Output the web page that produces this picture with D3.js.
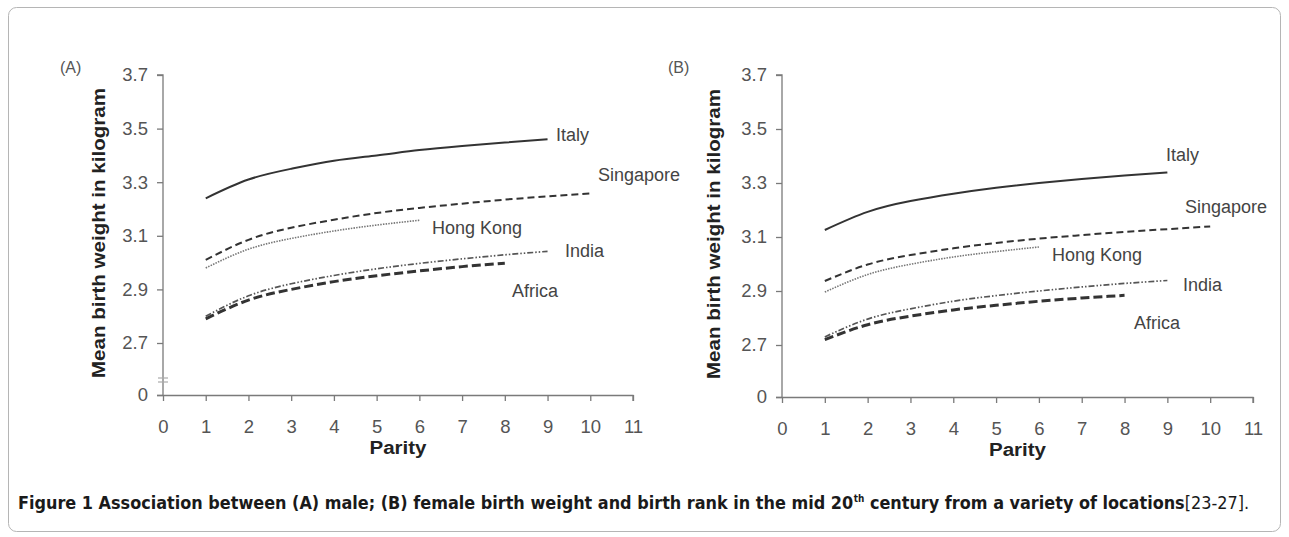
<!DOCTYPE html>
<html><head><meta charset="utf-8">
<script src="https://cdn.jsdelivr.net/npm/d3@7"></script>
<style>
html,body{margin:0;padding:0;background:#fff;}
svg{display:block;}
</style></head>
<body>
<svg id="chart" width="1289" height="537"></svg>
<script>
// ---- data ----
const parityTicks = [0,1,2,3,4,5,6,7,8,9,10,11];
const weightTicks = [0, 2.7, 2.9, 3.1, 3.3, 3.5, 3.7];
const weightTickLabels = ["0","2.7","2.9","3.1","3.3","3.5","3.7"];
const countries = ["Italy","Singapore","Hong Kong","India","Africa"];

// Panel A (male): values at parity 1,2,3,...
const italyA     = [3.24, 3.31, 3.35, 3.38, 3.40, 3.42, 3.435, 3.448, 3.46];
const singaporeA = [3.01, 3.085, 3.13, 3.16, 3.185, 3.204, 3.22, 3.235, 3.247, 3.258];
const hongKongA  = [2.98, 3.05, 3.09, 3.118, 3.14, 3.158];
const indiaA     = [2.80, 2.876, 2.921, 2.952, 2.977, 2.997, 3.014, 3.029, 3.042];
const africaA    = [2.79, 2.86, 2.90, 2.929, 2.951, 2.969, 2.985, 2.998];

// Panel B (female)
const italyB     = [3.126, 3.193, 3.233, 3.26, 3.282, 3.30, 3.315, 3.328, 3.339];
const singaporeB = [2.937, 2.998, 3.033, 3.058, 3.078, 3.094, 3.107, 3.119, 3.129, 3.139];
const hongKongB  = [2.896, 2.961, 2.999, 3.026, 3.046, 3.063];
const indiaB     = [2.73, 2.796, 2.834, 2.862, 2.883, 2.90, 2.915, 2.928, 2.939];
const africaB    = [2.72, 2.775, 2.807, 2.83, 2.847, 2.862, 2.874, 2.884];

const panelLetters = ["(A)","(B)"];
const yTitle = "Mean birth weight in kilogram";
const xTitle = "Parity";

// ---- styles ----
const styles = {
  "Italy":     {w:2.0, dash:null, color:"#333"},
  "Singapore": {w:2.0, dash:"7,4", color:"#333"},
  "Hong Kong": {w:1.6, dash:"1.5,1.2", color:"#777"},
  "India":     {w:1.7, dash:"6,2,1.5,2,1.5,2", color:"#555"},
  "Africa":    {w:3.0, dash:"9,4", color:"#333"}
};

const svg = d3.select("#chart");
const FONT = "'Liberation Sans', Arial, sans-serif";

// frame
svg.append("rect").attr("x",8.5).attr("y",7.5).attr("width",1272).attr("height",524)
  .attr("rx",8).attr("fill","none").attr("stroke","#b5b5b5").attr("stroke-width",1);

function drawPanel(cfg){
  const x = d3.scaleLinear().domain([0,11]).range([cfg.x0, cfg.x1]);
  const y = d3.scaleLinear().domain([0, 2.7, 3.7]).range([cfg.y0, cfg.y27, cfg.y37]);
  const g = svg.append("g");

  // y axis
  const yAx = d3.axisLeft(y).tickValues(weightTicks).tickSize(6).tickPadding(9)
    .tickFormat((d,i)=>weightTickLabels[i]);
  const ya = g.append("g").attr("transform",`translate(${cfg.x0},0)`).call(yAx);
  // x axis
  const xAx = d3.axisBottom(x).tickValues(parityTicks).tickSize(6).tickPadding(19)
    .tickFormat(d3.format("d"));
  const xa = g.append("g").attr("transform",`translate(0,${cfg.y0})`).call(xAx);
  [ya,xa].forEach(a=>{
    a.selectAll("path,line").attr("stroke","#7a7a7a").attr("stroke-width",1.3);
    a.selectAll("text").attr("fill","#555").style("font-family",FONT).style("font-size","18.5px");
  });
  xa.select(".domain").attr("d",`M${cfg.x0-6},0.5H${cfg.x1}V6`);
  ya.select(".domain").attr("d",`M-6,${cfg.y37}H0V${cfg.y0}`);

  if(cfg.breakMark){
    const by = y(0) - 15;
    [-2,2].forEach(o=>{
      g.append("line").attr("x1",cfg.x0-5).attr("x2",cfg.x0+5)
        .attr("y1",by+o).attr("y2",by+o).attr("stroke","#aaa").attr("stroke-width",1.2);
    });
  }

  // titles
  g.append("text").attr("transform",`translate(${cfg.yTitleX},${(cfg.y0+cfg.y37)/2 - 2}) rotate(-90)`)
    .attr("text-anchor","middle").attr("fill","#222")
    .attr("textLength",290).attr("lengthAdjust","spacingAndGlyphs")
    .style("font-family",FONT).style("font-weight","bold").style("font-size","18px")
    .text(yTitle);
  g.append("text").attr("x",(cfg.x0+cfg.x1)/2).attr("y",cfg.y0+59)
    .attr("text-anchor","middle").attr("fill","#222")
    .attr("textLength",57).attr("lengthAdjust","spacingAndGlyphs")
    .style("font-family",FONT).style("font-weight","bold").style("font-size","18px")
    .text(xTitle);
  g.append("text").attr("x",cfg.letterX).attr("y",73).attr("fill","#555")
    .style("font-family",FONT).style("font-size","16px").text(cfg.letter);

  // lines
  const line = d3.line().x((d,i)=>x(i+1)).y(d=>y(d)).curve(d3.curveNatural);
  cfg.series.forEach((vals,k)=>{
    const st = styles[countries[k]];
    g.append("path").datum(vals).attr("d",line).attr("fill","none")
      .attr("stroke",st.color).attr("stroke-width",st.w)
      .attr("stroke-dasharray",st.dash);
  });
  // labels
  cfg.labels.forEach((lb,k)=>{
    g.append("text").attr("x",lb[0]).attr("y",lb[1]).attr("text-anchor",lb[2]||"start")
      .attr("fill","#444").style("font-family",FONT).style("font-size","18px")
      .text(countries[k]);
  });
}

drawPanel({x0:163, x1:633, y0:395, y27:343, y37:75, yTitleX:105, letter:panelLetters[0], letterX:60,
  breakMark:true,
  series:[italyA, singaporeA, hongKongA, indiaA, africaA],
  labels:[[556,141],[680,181,"end"],[432,234],[565,257],[512,297]]});
drawPanel({x0:782, x1:1253, y0:397, y27:345, y37:75, yTitleX:720, letter:panelLetters[1], letterX:668,
  breakMark:false,
  series:[italyB, singaporeB, hongKongB, indiaB, africaB],
  labels:[[1166,161],[1267,213,"end"],[1052,261],[1183,291],[1134,329]]});

// caption (single text, horizontally scaled to the reference width)
const cap = svg.append("text").attr("x",0).attr("y",0).attr("fill","#1a1a1a")
  .style("font-family","'Liberation Sans Narrow','DejaVu Sans Condensed',sans-serif")
  .style("font-size","18px");
cap.append("tspan").style("font-weight","bold").text("Figure 1 Association between (A) male; (B) female birth weight and birth rank in the mid 20");
cap.append("tspan").style("font-weight","bold").attr("dx",0.5).attr("dy",-7).style("font-size","10px").text("th");
cap.append("tspan").style("font-weight","bold").attr("dy",7).text(" century from a variety of locations");
cap.append("tspan").text("[23-27].");
const capW = cap.node().getBBox().width;
cap.attr("transform",`translate(18,509) scale(${1232/capW},1)`);
</script>
</body></html>
